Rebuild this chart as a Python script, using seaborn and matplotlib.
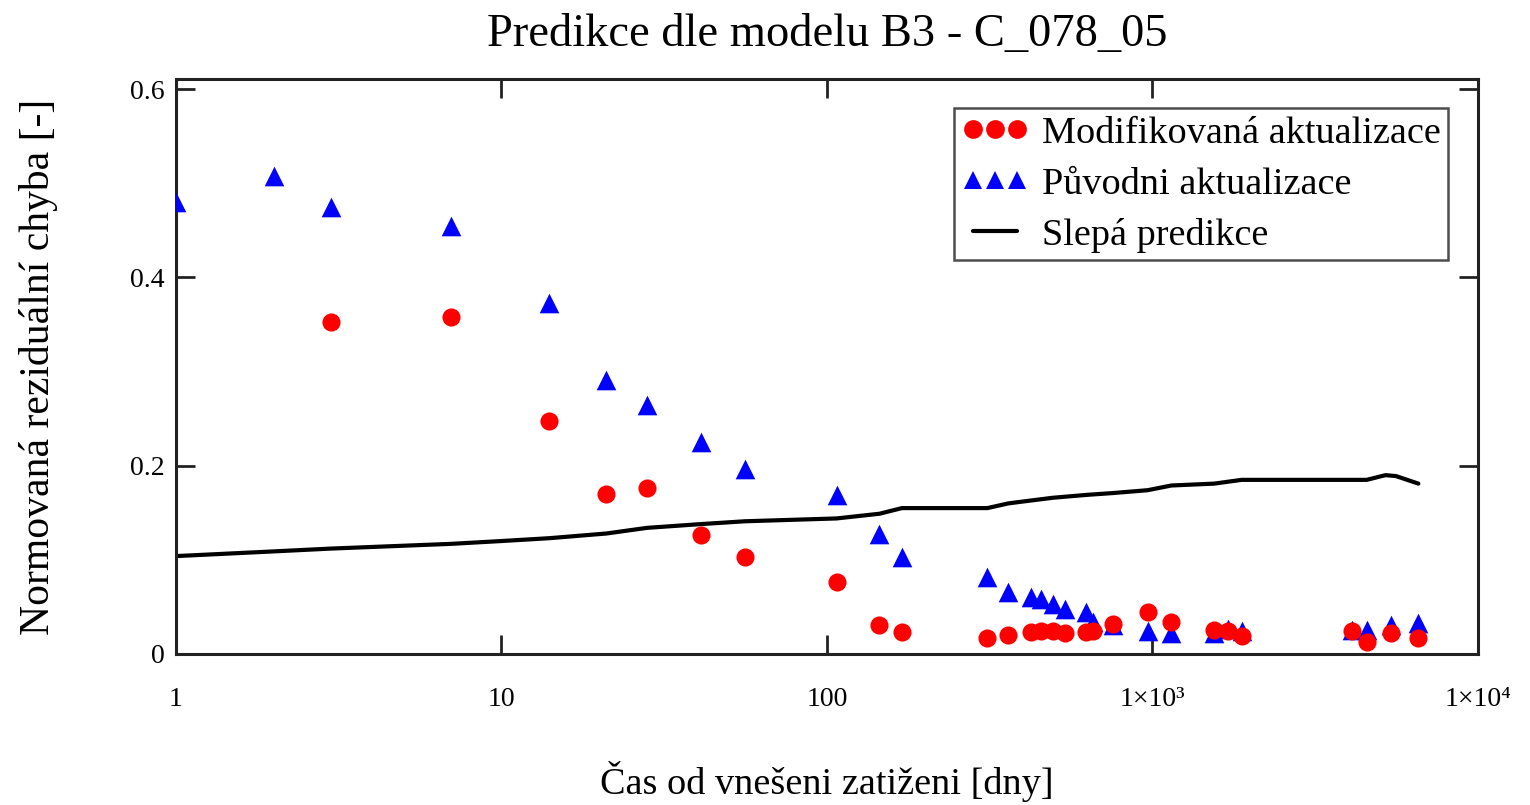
import numpy as np
import pandas as pd
import matplotlib
matplotlib.use("Agg")
import matplotlib.pyplot as plt
from matplotlib.lines import Line2D
from matplotlib.ticker import FixedLocator, FixedFormatter, NullLocator
import seaborn as sns

# ---- data ----
t_pts = [1, 2, 3, 7, 14, 21, 28, 41, 56, 107, 145, 170, 311, 361, 422, 456, 495,
         537, 626, 657, 757, 966, 1143, 1548, 1708, 1878, 4093, 4550, 5408, 6560]
orig_err = [0.480, 0.508, 0.475, 0.455, 0.373, 0.291, 0.264, 0.225, 0.197, 0.169,
            0.128, 0.103, 0.082, 0.066, 0.061, 0.058, 0.053, 0.048, 0.045, 0.034,
            0.031, 0.024, 0.022, 0.022, 0.027, 0.024, 0.026, 0.026, 0.031, 0.033]

t_mod = [3, 7, 14, 21, 28, 41, 56, 107, 145, 170, 311, 361, 422, 456, 495,
         537, 626, 657, 757, 966, 1143, 1548, 1708, 1878, 4093, 4550, 5408, 6560]
mod_err = [0.353, 0.358, 0.248, 0.170, 0.176, 0.126, 0.103, 0.076, 0.031, 0.023,
           0.017, 0.020, 0.023, 0.024, 0.024, 0.022, 0.023, 0.024, 0.032, 0.045,
           0.034, 0.026, 0.024, 0.019, 0.024, 0.013, 0.022, 0.017]

t_line = [1, 2, 3, 7, 10, 14, 21, 28, 41, 56, 107, 145, 170, 311, 361, 422, 495,
          626, 757, 966, 1143, 1548, 1878, 4093, 4550, 5200, 5600, 6560]
blind = [0.104, 0.109, 0.112, 0.117, 0.120, 0.123, 0.128, 0.134, 0.138, 0.141,
         0.144, 0.149, 0.155, 0.155, 0.160, 0.163, 0.166, 0.169, 0.171, 0.174,
         0.179, 0.181, 0.185, 0.185, 0.185, 0.190, 0.189, 0.181]

x_ticks = [1, 10, 100, 1000, 10000]
x_tick_labels = ["1", "10", "100", "1×10³", "1×10⁴"]
y_ticks = [0, 0.2, 0.4, 0.6]
y_tick_labels = ["0", "0.2", "0.4", "0.6"]

title = "Predikce dle modelu B3 - C_078_05"
xlabel = "Čas od vnešeni zatiženi [dny]"
ylabel = "Normovaná reziduální chyba [-]"
labels = ["Modifikovaná aktualizace", "Původni aktualizace", "Slepá predikce"]

df_orig = pd.DataFrame({"t": t_pts, "err": orig_err})
df_mod = pd.DataFrame({"t": t_mod, "err": mod_err})
df_line = pd.DataFrame({"t": t_line, "err": blind})

# ---- style ----
sns.set_style("ticks")
plt.rcParams["font.family"] = ["Liberation Serif", "DejaVu Serif"]
plt.rcParams["text.color"] = "black"
plt.rcParams["axes.labelcolor"] = "black"
plt.rcParams["xtick.color"] = "black"
plt.rcParams["ytick.color"] = "black"

fig = plt.figure(figsize=(15.3, 8.05), dpi=100)
ax = fig.add_axes([0.115, 0.1876, 0.851, 0.7144])

sns.lineplot(data=df_line, x="t", y="err", ax=ax, color="black", linewidth=3.0,
             zorder=2, legend=False)
sns.scatterplot(data=df_orig, x="t", y="err", ax=ax, color="#0000ff", marker="^",
                s=200, linewidth=0, zorder=3, legend=False)
sns.scatterplot(data=df_mod, x="t", y="err", ax=ax, color="#ff0000", marker="o",
                s=170, linewidth=0, zorder=4, legend=False)

ax.set_xscale("log")
ax.set_xlim(1, 10000)
ax.set_ylim(0, 0.611)
ax.xaxis.set_major_locator(FixedLocator(x_ticks))
ax.xaxis.set_major_formatter(FixedFormatter(x_tick_labels))
ax.xaxis.set_minor_locator(NullLocator())
ax.yaxis.set_major_locator(FixedLocator(y_ticks))
ax.yaxis.set_major_formatter(FixedFormatter(y_tick_labels))

ax.tick_params(axis="both", which="major", direction="in", length=14, width=2,
               color="#222222", labelsize=20, top=True, right=True,
               labelcolor="black")
ax.tick_params(axis="x", pad=24)
ax.tick_params(axis="y", pad=8)
for sp in ax.spines.values():
    sp.set_visible(True)
    sp.set_linewidth(2.2)
    sp.set_color("#222222")

ax.set_title(title, fontsize=33.5, pad=24, color="black")
ax.set_xlabel(xlabel, fontsize=27.5, labelpad=35)
ax.set_ylabel(ylabel, fontsize=30, labelpad=52)

handles = [
    Line2D([], [], ls="", marker="o", color="#ff0000", markersize=13.5, markeredgewidth=0),
    Line2D([], [], ls="", marker="^", color="#0000ff", markersize=13, markeredgewidth=0),
    Line2D([], [], ls="-", color="black", linewidth=3.0),
]
leg = ax.legend(handles, labels, loc="upper right", bbox_to_anchor=(0.983, 0.962),
                numpoints=3, fontsize=27.5, frameon=True, fancybox=False,
                handlelength=1.75, handletextpad=0.35, borderpad=0.2,
                labelspacing=0.42, borderaxespad=0.2)
leg.get_frame().set_edgecolor("#222222")
leg.get_frame().set_linewidth(1.8)
for txt in leg.get_texts():
    txt.set_color("black")

fig.savefig("out.png", dpi=100)
